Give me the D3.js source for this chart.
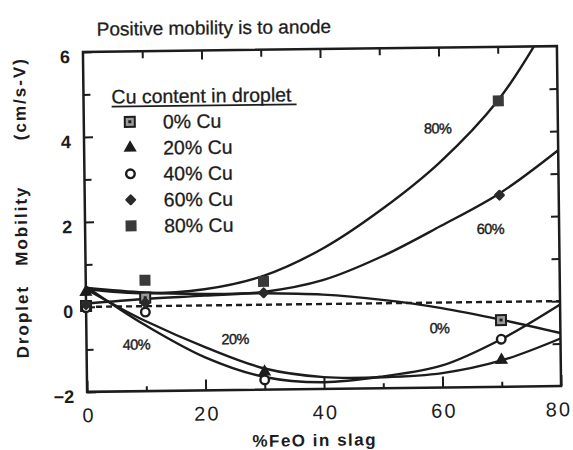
<!DOCTYPE html>
<meta charset="utf-8">
<style>
body { margin: 0; background: #fff; }
svg { display: block; font-family: "Liberation Sans", Arial, sans-serif; }
.curve { fill: none; stroke: #1c1c1c; stroke-width: 2.4px; stroke-linejoin: round; }
.tick line { stroke: #1c1c1c; stroke-width: 2px; }
</style>
<svg width="573" height="450"></svg>
<script src="https://cdn.jsdelivr.net/npm/d3@7"></script>
<script>

// legend entries, in order
var seriesNames = ["0% Cu", "20% Cu", "40% Cu", "60% Cu", "80% Cu"];
var seriesSymbols = ["sqdot", "tri", "circ", "diam", "sq"];

// measured points [%FeO, mobility]
var pts0 = [[0, 0.02], [10, 0.2], [70, -0.43]];
var pts20 = [[0, 0.35], [30, -1.58], [70, -1.37]];
var pts40 = [[0, -0.02], [10, -0.14], [30, -1.77], [70, -0.88]];
var pts60 = [[0, 0.05], [10, 0.08], [30, 0.28], [70, 2.51]];
var pts80 = [[10, 0.61], [30, 0.55], [70, 4.73]];

// hand-drawn trend curves
var fit0 = [[0, 0.45], [10, 0.32], [20, 0.27], [30, 0.27], [40, 0.22], [50, 0.08], [60, -0.13], [70, -0.42], [80, -0.75]];
var fit20 = [[0, 0.42], [5, 0.02], [10, -0.35], [20, -0.98], [30, -1.5], [40, -1.72], [50, -1.74], [60, -1.66], [70, -1.38], [80, -0.88]];
var fit40 = [[0, 0.48], [5, 0.0], [10, -0.45], [20, -1.22], [30, -1.7], [40, -1.84], [50, -1.72], [60, -1.48], [70, -0.88], [80, -0.08]];
var fit60 = [[0, 0.08], [10, 0.17], [20, 0.23], [30, 0.3], [40, 0.56], [50, 1.1], [60, 1.8], [70, 2.55], [80, 3.55]];
var fit80 = [[0, 0.42], [10, 0.3], [20, 0.38], [30, 0.68], [40, 1.3], [50, 2.2], [60, 3.3], [70, 4.75], [77, 6.2]];
var zeroLine = [[0, 0], [80, 0]];

// curve labels [text, %FeO, mobility]
var curveLabels = [["80%", 59.7, 4.1], ["60%", 68.4, 1.72], ["0%", 59.6, -0.6], ["40%", 8.4, -0.9], ["20%", 25.1, -0.8]];

var xMajor = [0, 20, 40, 60, 80];
var xMinor = [10, 30, 50, 70];
var yMajor = [-2, 0, 2, 4, 6];
var yMinor = [-1, 1, 3, 5];

var svg = d3.select("svg");
var box = {l: 85, r: 559, t: 49, b: 389};

var x = d3.scaleLinear().domain([0, 80]).range([box.l, box.r]);
var y = d3.scaleLinear().domain([-2, 6]).range([box.b, box.t]);

// the scan is tilted a little, so is everything here
var root = svg.append("g").attr("transform", "rotate(-0.7,322,219)");

root.append("defs").append("clipPath").attr("id", "plotclip")
  .append("rect")
    .attr("x", box.l).attr("y", box.t)
    .attr("width", box.r - box.l).attr("height", box.b - box.t);

function noDomain(g) { g.select(".domain").remove(); }

// bottom axis
root.append("g").attr("transform", "translate(0," + box.b + ")")
  .call(d3.axisBottom(x).tickValues(xMajor).tickSize(-11).tickPadding(16))
  .call(noDomain)
  .call(function(g) {
    g.selectAll("text").attr("fill", "#1c1c1c")
      .style("font-size", "20px").style("letter-spacing", "2px")
      .attr("dx", function(d) { return d == 80 ? "-3px" : "1px"; });
  });
root.append("g").attr("transform", "translate(0," + box.b + ")")
  .call(d3.axisBottom(x).tickValues(xMinor).tickSize(-5).tickFormat(""))
  .call(noDomain);

// top axis
root.append("g").attr("transform", "translate(0," + box.t + ")")
  .call(d3.axisTop(x).tickValues(xMajor.slice(1, 4)).tickSize(-9).tickFormat(""))
  .call(noDomain);
root.append("g").attr("transform", "translate(0," + box.t + ")")
  .call(d3.axisTop(x).tickValues(xMinor).tickSize(-7).tickFormat(""))
  .call(noDomain);

// left axis
root.append("g").attr("transform", "translate(" + box.l + ",0)")
  .call(d3.axisLeft(y).tickValues(yMajor).tickSize(-9).tickPadding(13))
  .call(noDomain)
  .call(function(g) {
    g.selectAll("text").attr("fill", "#1c1c1c")
      .style("font-size", "18px").style("font-weight", "bold")
      .attr("dy", "0.58em");
  });
root.append("g").attr("transform", "translate(" + box.l + ",0)")
  .call(d3.axisLeft(y).tickValues(yMinor).tickSize(-7).tickFormat(""))
  .call(noDomain);

// right axis
root.append("g").attr("transform", "translate(" + box.r + ",0)")
  .call(d3.axisRight(y).tickValues(yMajor.slice(1, 4).concat(yMinor)).tickSize(-8).tickFormat(""))
  .call(noDomain);

// frame
root.append("rect")
  .attr("x", box.l).attr("y", box.t)
  .attr("width", box.r - box.l).attr("height", box.b - box.t)
  .attr("fill", "none").attr("stroke", "#1c1c1c").attr("stroke-width", 2.5);

var line = d3.line()
  .x(function(d) { return x(d[0]); })
  .y(function(d) { return y(d[1]); })
  .curve(d3.curveCatmullRom.alpha(0.5));

var curves = root.append("g").attr("clip-path", "url(#plotclip)");

curves.append("path").datum(zeroLine)
  .attr("class", "curve")
  .attr("stroke-dasharray", "6,4")
  .attr("d", line);

[fit0, fit20, fit40, fit60, fit80].forEach(function(f) {
  curves.append("path").datum(f).attr("class", "curve").attr("d", line);
});

function marker(g, kind, cx, cy) {
  if (kind == "sqdot") {
    g.append("rect").attr("x", cx - 5).attr("y", cy - 5).attr("width", 10).attr("height", 10)
      .attr("fill", "#9a9a9a").attr("stroke", "#1c1c1c").attr("stroke-width", 2);
    g.append("rect").attr("x", cx - 1.5).attr("y", cy - 1.5).attr("width", 3).attr("height", 3)
      .attr("fill", "#1c1c1c");
  } else if (kind == "tri") {
    g.append("path").attr("transform", "translate(" + cx + "," + cy + ")")
      .attr("d", d3.symbol(d3.symbolTriangle, 75)()).attr("fill", "#1c1c1c");
  } else if (kind == "circ") {
    g.append("circle").attr("cx", cx).attr("cy", cy).attr("r", 4.3)
      .attr("fill", "#fff").attr("stroke", "#1c1c1c").attr("stroke-width", 2.4);
  } else if (kind == "diam") {
    g.append("rect").attr("x", -4.2).attr("y", -4.2).attr("width", 8.4).attr("height", 8.4)
      .attr("rx", 1.2)
      .attr("transform", "translate(" + cx + "," + cy + ") rotate(45)")
      .attr("fill", "#2a2a2a");
  } else {
    g.append("rect").attr("x", cx - 5.5).attr("y", cy - 5.5).attr("width", 11).attr("height", 11)
      .attr("fill", "#3a3a3a");
  }
}

var marks = root.append("g");
[pts0, pts20, pts40, pts60, pts80].forEach(function(pts, i) {
  pts.forEach(function(p) { marker(marks, seriesSymbols[i], x(p[0]), y(p[1])); });
});

// labels on the curves
root.append("g").selectAll("text").data(curveLabels).enter().append("text")
  .attr("x", function(d) { return x(d[1]); })
  .attr("y", function(d) { return y(d[2]); })
  .attr("text-anchor", "middle").attr("dy", "0.35em")
  .attr("fill", "#1c1c1c")
  .style("font-size", "14.5px").style("letter-spacing", "-0.6px")
  .style("stroke", "#1c1c1c").style("stroke-width", "0.4px")
  .text(function(d) { return d[0]; });

// legend
var legend = root.append("g");
legend.append("text").attr("x", 113).attr("y", 101)
  .attr("fill", "#1c1c1c").style("font-size", "19.5px")
  .style("stroke", "#1c1c1c").style("stroke-width", "0.3px")
  .text("Cu content in droplet");
legend.append("line").attr("x1", 113).attr("x2", 298).attr("y1", 104).attr("y2", 104)
  .attr("stroke", "#1c1c1c").attr("stroke-width", 1.8);

seriesNames.forEach(function(name, i) {
  var cy = 119.5 + i * 26;
  marker(legend, seriesSymbols[i], 131, cy);
  legend.append("text").attr("x", 164).attr("y", cy).attr("dy", "0.36em")
    .attr("fill", "#1c1c1c").style("font-size", "19.5px")
    .style("stroke", "#1c1c1c").style("stroke-width", "0.3px")
    .text(name);
});

// titles
root.append("text").attr("x", 99).attr("y", 33)
  .attr("fill", "#1c1c1c").style("font-size", "19px")
  .style("stroke", "#1c1c1c").style("stroke-width", "0.3px")
  .text("Positive mobility is to anode");

root.append("text").attr("x", 312).attr("y", 446)
  .attr("text-anchor", "middle").attr("fill", "#1c1c1c")
  .style("font-size", "17px").style("font-weight", "bold").style("letter-spacing", "1.5px")
  .text("%FeO in slag");

var yTitle = [["Droplet", 318], ["Mobility", 222], ["(cm/s-V)", 95]];
root.append("g").selectAll("text").data(yTitle).enter().append("text")
  .attr("transform", function(d) { return "translate(27," + d[1] + ") rotate(-90)"; })
  .attr("text-anchor", "middle").attr("fill", "#1c1c1c")
  .style("font-size", "17px").style("font-weight", "bold").style("letter-spacing", "2px")
  .text(function(d) { return d[0]; });

</script>
